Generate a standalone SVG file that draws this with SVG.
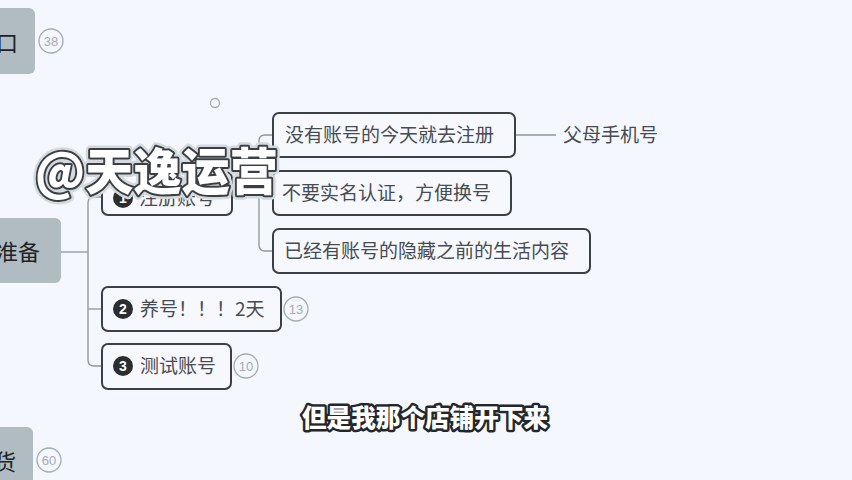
<svg xmlns="http://www.w3.org/2000/svg" width="852" height="480" viewBox="0 0 852 480">
<style>
.bg{fill:#f4f7fd}
.root{fill:#b1bcc2}
.node{fill:#f6f8fd;stroke:#3b4046;stroke-width:2}
.t{font-family:"Noto Sans CJK SC","Noto Sans",sans-serif;fill:#474c51;font-size:19px}
.rt{font-family:"Noto Sans CJK SC","Noto Sans",sans-serif;fill:#1e2326;font-size:22px}
.badge{fill:none;stroke:#a3adb3;stroke-width:1.3}
.bt{font-family:"Liberation Sans","Noto Sans",sans-serif;fill:#a3adb3;font-size:13px;text-anchor:middle}
.num{fill:#2b2e31}
.nt{font-family:"Liberation Sans",sans-serif;font-weight:bold;fill:#fff;font-size:14px;text-anchor:middle}
.line{fill:none;stroke:#8d979d;stroke-width:1.3}
.wm{font-family:"Noto Sans CJK SC",sans-serif;font-weight:900;font-size:50px;paint-order:stroke fill}
.sub{font-family:"Noto Sans CJK SC",sans-serif;font-weight:900;font-size:25px;fill:#fff;stroke:#23272b;stroke-width:5;paint-order:stroke fill;stroke-linejoin:round}
</style>
<rect class="bg" x="0" y="0" width="852" height="480"/>
<g id="connectors">
<path class="line" d="M61 252 H88"/>
<path class="line" d="M102 197 H94 Q88 197 88 203 V360 Q88 366 94 366 H102"/>
<path class="line" d="M88 309 H102"/>
<path class="line" d="M232 197 H259"/>
<path class="line" d="M273 135 H265 Q259 135 259 141 V245 Q259 251 265 251 H273"/>
<path class="line" d="M259 193 H273"/>
<path class="line" d="M515 135 H556"/>
</g>
<g id="node-top">
<rect class="root" x="-10" y="8" width="45" height="66" rx="6"/>
<text class="rt" x="-4" y="51">口</text>
<circle class="badge" cx="51" cy="41" r="12"/>
<text class="bt" x="51" y="46">38</text>
</g>
<g id="dot"><circle class="badge" cx="215" cy="103" r="4.5"/></g>
<g id="node-prep">
<rect class="root" x="-10" y="218" width="71" height="65" rx="6"/>
<text class="rt" x="-4" y="260">准备</text>
</g>
<g id="node-bottom">
<rect class="root" x="-10" y="427" width="43" height="70" rx="6"/>
<text class="rt" x="-6" y="470">货</text>
<circle class="badge" cx="49" cy="460" r="12"/>
<text class="bt" x="49" y="465">60</text>
</g>
<g id="node-register">
<rect class="node" x="102" y="172" width="130" height="43" rx="6"/>
<circle class="num" cx="123" cy="198" r="10"/>
<text class="nt" x="123" y="203">1</text>
<text class="t" x="139" y="205">注册账号</text>
</g>
<g id="node-raise">
<rect class="node" x="102" y="287" width="179" height="44" rx="6"/>
<circle class="num" cx="123" cy="309" r="10"/>
<text class="nt" x="123" y="314">2</text>
<text class="t" x="140" y="316">养号！！！2天</text>
<circle class="badge" cx="296" cy="309" r="12"/>
<text class="bt" x="296" y="314">13</text>
</g>
<g id="node-test">
<rect class="node" x="102" y="344" width="129" height="45" rx="6"/>
<circle class="num" cx="123" cy="366" r="10"/>
<text class="nt" x="123" y="371">3</text>
<text class="t" x="140" y="373">测试账号</text>
<circle class="badge" cx="246" cy="366" r="12"/>
<text class="bt" x="246" y="371">10</text>
</g>
<g id="node-noaccount">
<rect class="node" x="273" y="113" width="242" height="44" rx="6"/>
<text class="t" x="285" y="142">没有账号的今天就去注册</text>
</g>
<g id="node-parents">
<text class="t" x="563" y="142">父母手机号</text>
</g>
<g id="node-noreal">
<rect class="node" x="273" y="171" width="238" height="44" rx="6"/>
<text class="t" x="282" y="200">不要实名认证，方便换号</text>
</g>
<g id="node-hide">
<rect class="node" x="273" y="229" width="317" height="44" rx="6"/>
<text class="t" x="284" y="258">已经有账号的隐藏之前的生活内容</text>
</g>
<g id="watermark">
<text class="wm" x="35" y="190" textLength="243" lengthAdjust="spacingAndGlyphs" fill="none" stroke="#d4d9de" stroke-width="9" stroke-linejoin="round">@天逸运营</text>
<text class="wm" x="35" y="190" textLength="243" lengthAdjust="spacingAndGlyphs" fill="#ffffff" stroke="#3a3f44" stroke-width="4" stroke-linejoin="round">@天逸运营</text>
</g>
<g id="subtitle">
<text class="sub" x="302" y="427" textLength="246" lengthAdjust="spacingAndGlyphs">但是我那个店铺开下来</text>
</g>
</svg>
